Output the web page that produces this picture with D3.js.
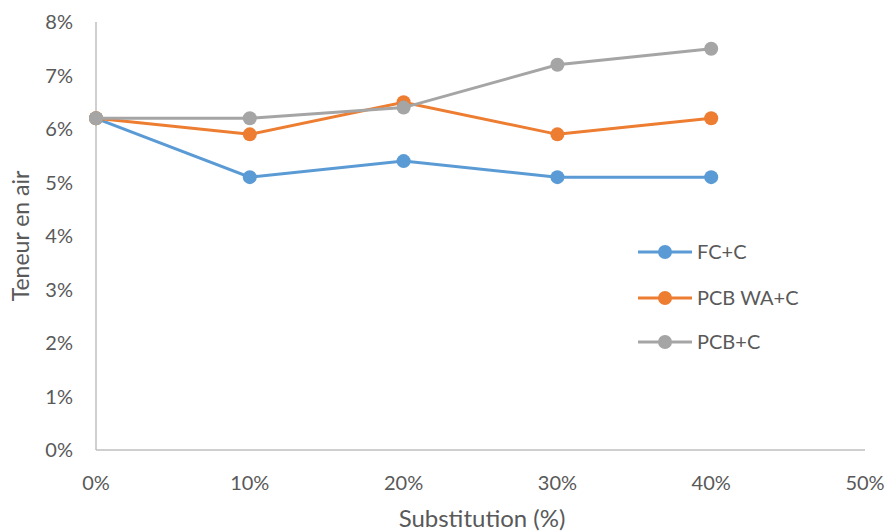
<!DOCTYPE html>
<html>
<head>
<meta charset="utf-8">
<script src="https://cdn.jsdelivr.net/npm/d3@7"></script>
<style>
  body { margin: 0; background: #fff; }
  text { font-family: Lato, "Open Sans", sans-serif; fill: #595959; }
</style>
</head>
<body>
<svg id="chart" width="889" height="531"></svg>
<script>
// data
const substitution = [0, 10, 20, 30, 40];
const fcC = [6.2, 5.1, 5.4, 5.1, 5.1];
const pcbWaC = [6.2, 5.9, 6.5, 5.9, 6.2];
const pcbC = [6.2, 6.2, 6.4, 7.2, 7.5];
const seriesNames = ["FC+C", "PCB WA+C", "PCB+C"];
const xTicks = [0, 10, 20, 30, 40, 50];
const yTicks = [0, 1, 2, 3, 4, 5, 6, 7, 8];

const colors = ["#5B9BD5", "#ED7D31", "#A5A5A5"];
const series = [fcC, pcbWaC, pcbC].map((vals, i) => ({
    name: seriesNames[i],
    color: colors[i],
    points: vals.map((v, j) => ({ x: substitution[j], y: v }))
}));

const svg = d3.select('#chart');
const margin = { top: 22, right: 24, bottom: 81, left: 96 };
const width = 889, height = 531;
const chartWidth = width - margin.left - margin.right;
const chartHeight = height - margin.top - margin.bottom;

const g = svg.append('g')
    .attr('transform', `translate(${margin.left}, ${margin.top})`);

const xScale = d3.scaleLinear().domain([0, 50]).range([0, chartWidth]);
const yScale = d3.scaleLinear().domain([0, 8]).range([chartHeight, 0]);

// axes lines (no tick marks)
g.append('line')
    .attr('x1', 0).attr('x2', 0)
    .attr('y1', 0).attr('y2', chartHeight)
    .attr('stroke', '#BFBFBF').attr('stroke-width', 1.5);
g.append('line')
    .attr('x1', 0).attr('x2', chartWidth)
    .attr('y1', chartHeight).attr('y2', chartHeight)
    .attr('stroke', '#BFBFBF').attr('stroke-width', 1.5);

// tick labels
g.selectAll('.ytick')
    .data(yTicks)
    .enter()
    .append('text')
    .attr('class', 'ytick')
    .attr('x', -23)
    .attr('y', d => yScale(d))
    .attr('dy', '0.35em')
    .style('text-anchor', 'end')
    .style('font-size', '20px')
    .text(d => d + '%');

g.selectAll('.xtick')
    .data(xTicks)
    .enter()
    .append('text')
    .attr('class', 'xtick')
    .attr('x', d => xScale(d))
    .attr('y', chartHeight + 33)
    .attr('dy', '0.35em')
    .style('text-anchor', 'middle')
    .style('font-size', '20px')
    .text(d => d + '%');

// axis titles
svg.append('text')
    .attr('x', 482)
    .attr('y', 527)
    .style('text-anchor', 'middle')
    .style('font-size', '24px')
    .text('Substitution (%)');

svg.append('text')
    .attr('transform', 'rotate(-90)')
    .attr('x', -236)
    .attr('y', 29)
    .style('text-anchor', 'middle')
    .style('font-size', '23px')
    .text('Teneur en air');

// lines and markers
const line = d3.line()
    .x(d => xScale(d.x))
    .y(d => yScale(d.y));

series.forEach(s => {
    g.append('path')
        .datum(s.points)
        .attr('d', line)
        .attr('fill', 'none')
        .attr('stroke', s.color)
        .attr('stroke-width', 3);
    g.selectAll(null)
        .data(s.points)
        .enter()
        .append('circle')
        .attr('cx', d => xScale(d.x))
        .attr('cy', d => yScale(d.y))
        .attr('r', 7)
        .style('fill', s.color);
});

// legend
const legendY = [252, 298, 342];
const legend = svg.append('g');
series.forEach((s, i) => {
    legend.append('line')
        .attr('x1', 638).attr('x2', 692)
        .attr('y1', legendY[i]).attr('y2', legendY[i])
        .attr('stroke', s.color).attr('stroke-width', 3);
    legend.append('circle')
        .attr('cx', 665).attr('cy', legendY[i])
        .attr('r', 7)
        .style('fill', s.color);
    legend.append('text')
        .attr('x', 697).attr('y', legendY[i])
        .attr('dy', '0.35em')
        .style('font-size', '20px')
        .text(s.name);
});
</script>
</body>
</html>
